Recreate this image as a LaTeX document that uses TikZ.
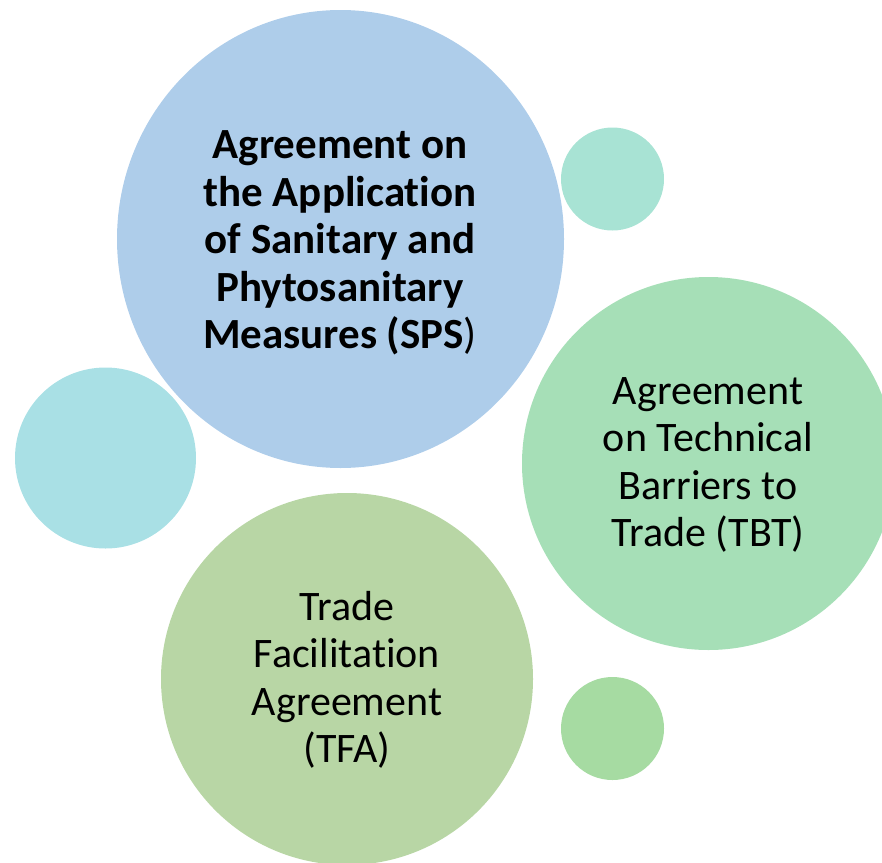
\documentclass[tikz,border=0pt]{standalone}
\usepackage{fontspec}
\usetikzlibrary{shapes.geometric}
\setmainfont{Carlito}[Ligatures={NoCommon}]
\definecolor{spsblue}{HTML}{AECDEA}
\definecolor{dotteal}{HTML}{A8E3D4}
\definecolor{dotcyan}{HTML}{A9E0E5}
\definecolor{tbtgreen}{HTML}{A6DFB7}
\definecolor{tfagreen}{HTML}{B8D6A5}
\definecolor{dotgreen}{HTML}{A6DBA2}
\tikzset{
  bubble/.style={circle, inner sep=0pt, minimum size=#1},
  label/.style={align=center, font=\fontsize{42}{47.5}\selectfont, text=black}
}
\begin{document}
\begin{tikzpicture}[x=1pt,y=-1pt]
  \useasboundingbox (0,0) rectangle (882,862);
  \begin{scope}
    \clip (0,0) rectangle (882,862);
    % main bubbles
    \node[ellipse, inner sep=0pt, minimum width=447pt, minimum height=458pt, fill=spsblue] (sps) at (340.5,239) {};
    \node[bubble=373pt, fill=tbtgreen] (tbt) at (708.5,463.5) {};
    \node[bubble=372pt, fill=tfagreen] (tfa) at (347,679) {};
    % accent dots
    \node[bubble=103pt, fill=dotteal] (d1) at (612.5,179) {};
    \node[bubble=181pt, fill=dotcyan] (d2) at (105.5,458) {};
    \node[bubble=103pt, fill=dotgreen] (d3) at (612.5,728.5) {};
  \end{scope}
  % labels
  \node[label, font=\fontsize{43}{47.5}\selectfont\bfseries] (spst) at (340,243)
    {Agreement on\\the Application\\of Sanitary and\\Phytosanitary\\Measures (SPS{\mdseries)}};
  \node[label] (tbtt) at (708,465)
    {Agreement\\on Technical\\Barriers to\\Trade (TBT)};
  \node[label] (tfat) at (347,680)
    {Trade\\Facilitation\\Agreement\\(TFA)};
\end{tikzpicture}
\end{document}
